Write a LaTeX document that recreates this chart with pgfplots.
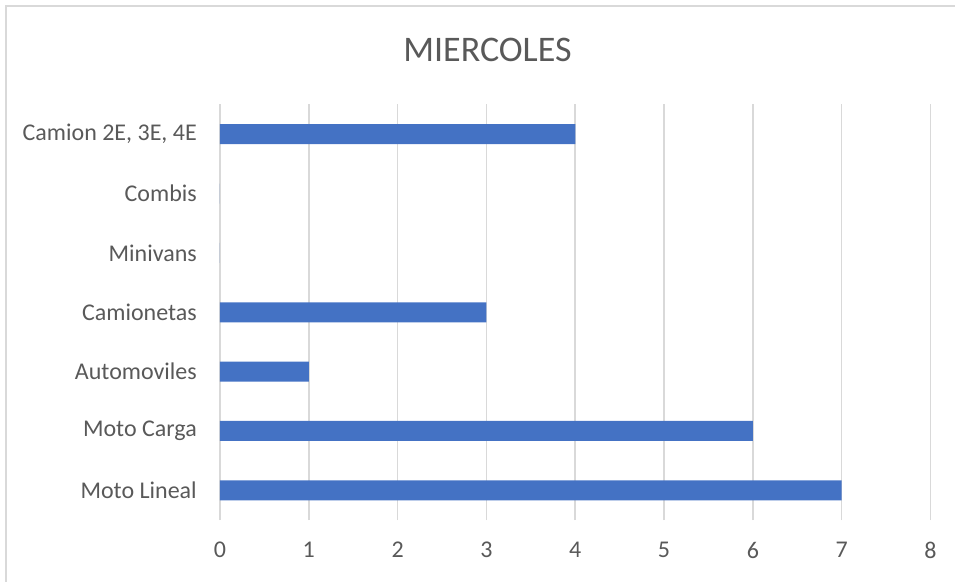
\documentclass[border=0pt]{standalone}
\usepackage{fontspec}
\setmainfont{Carlito}
\usepackage{pgfplots}
\pgfplotsset{compat=1.18}
\definecolor{barblue}{HTML}{4472C4}
\definecolor{txtgray}{HTML}{595959}
\definecolor{gridgray}{HTML}{D9D9D9}
\begin{document}
\begin{tikzpicture}
\begin{axis}[
  name=ax, anchor=south west, at={(0pt,0pt)},
  scale only axis, width=710.5pt, height=415.5pt,
  xbar, bar width=20pt,
  xmin=0, xmax=8, ymin=-0.5, ymax=6.5,
  xtick={0,...,8},
  ytick={0,...,6},
  yticklabels={Moto Lineal, Moto Carga, Automoviles, Camionetas, Minivans, Combis, {Camion 2E, 3E, 4E}},
  axis line style={draw=none},
  major tick length=0pt,
  xmajorgrids, grid style={gridgray, line width=1.6pt},
  ymajorgrids=false,
  tick label style={txtgray, font=\fontsize{24}{28}\selectfont, inner sep=0pt},
  /pgf/number format/assume math mode=true,
  yticklabel style={anchor=east, xshift=-23pt},
  xticklabel style={anchor=north, yshift=-22pt},
  clip=false,
]
\addplot[fill=barblue, draw=none] coordinates {
  (7,0) (6,1) (1,2) (3,3) (0,4) (0,5) (4,6)
};
\end{axis}
\pgfresetboundingbox
\path[use as bounding box] (-220pt,-61pt) rectangle (735pt,520pt);
% chart frame (only top and left edges fall inside the page)
\draw[gridgray, line width=1.6pt] (-214pt,-90pt) -- (-214pt,514pt) -- (760pt,514pt);
\node[txtgray, font=\fontsize{36}{40}\selectfont] at (267.5pt,470pt) {MIERCOLES};
\end{tikzpicture}
\end{document}
